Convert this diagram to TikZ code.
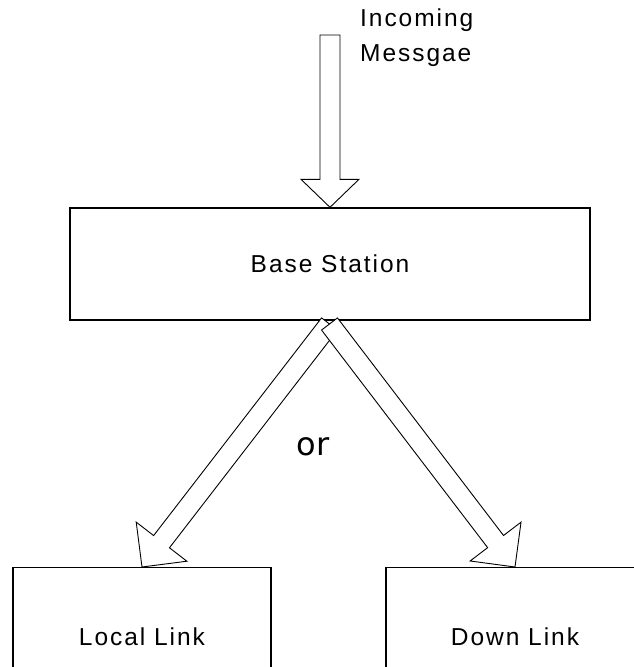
\documentclass[tikz,border=0pt]{standalone}
\usepackage{fontspec}
\setmainfont{Liberation Sans}[LetterSpace=8.0]
\newfontfamily\orfont{DejaVu Sans}
\usetikzlibrary{calc}

% hollow block arrow from #1 to the tip #2; #3 names its head base,
% #4 is the head length and #5 the half width of the head
\newcommand\hollowarrow[5]{%
  \coordinate (#3) at ($(#2)!#4!(#1)$);
  \draw[blockarrow]
    ($(#1)!10pt!90:(#2)$) --
    ($(#3)!10pt!90:(#2)$) --
    ($(#3)!#5!90:(#2)$) --
    (#2) --
    ($(#3)!#5!-90:(#2)$) --
    ($(#3)!10pt!-90:(#2)$) --
    ($(#1)!10pt!-90:(#2)$) -- cycle;
}

\begin{document}
\begin{tikzpicture}[x=1pt,y=-1pt,
  box/.style={draw=black, line width=1.4pt, fill=white, inner sep=0pt,
    font=\fontsize{24.5}{35}\selectfont},
  blockarrow/.style={draw=black, line width=0.9pt, fill=white, line join=miter},
  lbl/.style={inner sep=0pt, font=\fontsize{24.5}{35}\selectfont}]
  \useasboundingbox (0,0) rectangle (634,667);
  \clip (0,0) rectangle (634,667);
  \fill[white] (0,0) rectangle (634,667);

  % stations
  \node[box, minimum width=520pt, minimum height=112pt] (base) at (330,264) {Base Station};
  \node[box, minimum width=258pt, minimum height=138pt, anchor=north] (local) at (142,567) {Local Link};
  \node[box, minimum width=258pt, minimum height=138pt, anchor=north] (down) at (515,567) {Down Link};

  % incoming message
  \node[lbl, anchor=north west, align=left] (msg) at (360,9) {Incoming\\Messgae};
  \coordinate (in) at (330,35);
  \hollowarrow{in}{base.north}{inhead}{28pt}{29pt}

  % the two possible routes
  \coordinate (split) at (329.5,324);
  \hollowarrow{split}{local.north}{localhead}{32pt}{32pt}
  \hollowarrow{split}{down.north}{downhead}{32pt}{32pt}

  \node[inner sep=0pt, font=\orfont\fontsize{32}{38}\selectfont] (or) at (313,447) {or};
\end{tikzpicture}
\end{document}
